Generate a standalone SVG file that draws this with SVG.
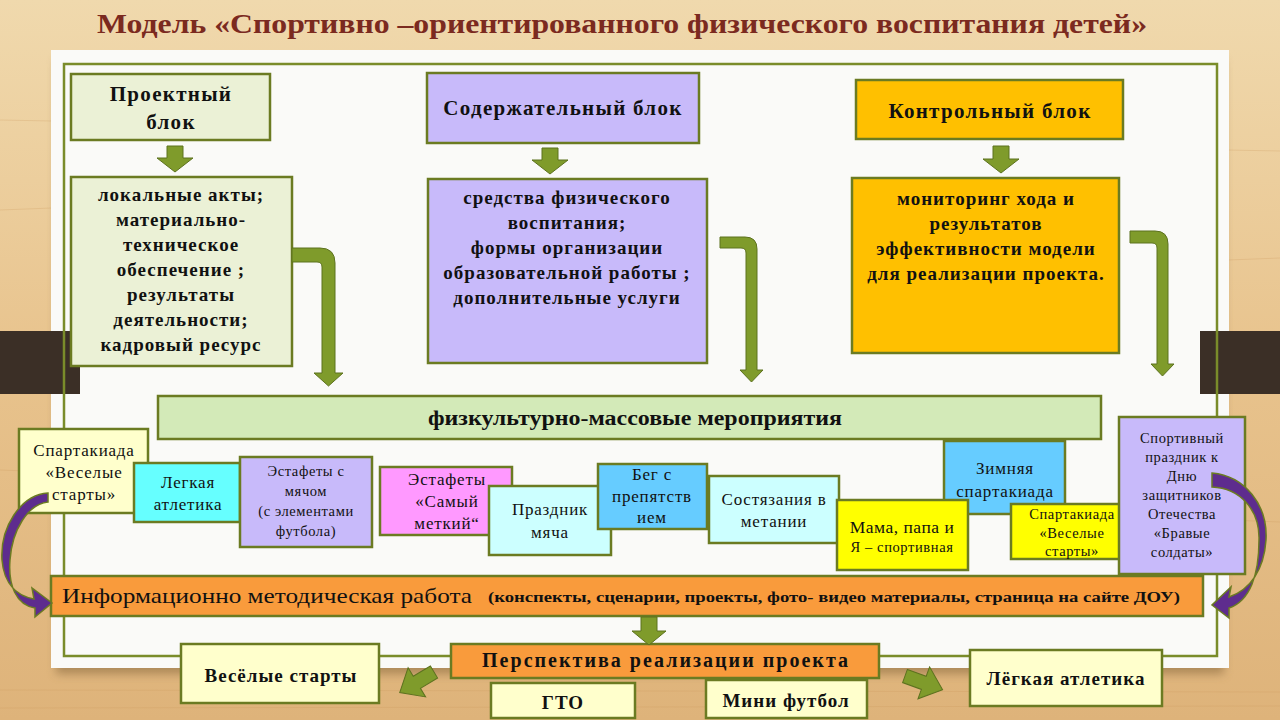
<svg xmlns="http://www.w3.org/2000/svg" width="1280" height="720" viewBox="0 0 1280 720">
<defs>
<linearGradient id="wood" x1="0" y1="0" x2="0" y2="1">
<stop offset="0" stop-color="#f0d9ad"/>
<stop offset="0.5" stop-color="#e8c38d"/>
<stop offset="1" stop-color="#deb37a"/>
</linearGradient>
<filter id="sh" x="-5%" y="-5%" width="110%" height="120%">
<feGaussianBlur stdDeviation="5"/>
</filter>
<style>
.bx{stroke:#6b7b22;stroke-width:2.5}
.ga{fill:#7f9b2b;stroke:#5d721f;stroke-width:1}
.pa{fill:#5e2c8e;stroke:#6b7b22;stroke-width:1.5}
.t{font-family:"Liberation Serif","Times New Roman",serif;fill:#111;text-anchor:middle}
.b{font-weight:bold}
.h{font-size:21px;font-weight:bold;letter-spacing:1.3px}
.m{font-size:19px;font-weight:bold;letter-spacing:1px}
.s{font-size:17px;letter-spacing:0.8px}
.xs{font-size:14.5px;letter-spacing:0.6px}
.p{font-size:19px;font-weight:bold;letter-spacing:1px}
</style>
</defs>
<rect x="0" y="0" width="1280" height="720" fill="url(#wood)"/>
<g opacity="0.25" stroke="#c9965a" stroke-width="1">
<line x1="0" y1="120" x2="52" y2="121"/><line x1="0" y1="210" x2="52" y2="208"/><line x1="0" y1="470" x2="52" y2="472"/>
<line x1="1228" y1="150" x2="1280" y2="151"/><line x1="1228" y1="260" x2="1280" y2="258"/><line x1="1228" y1="520" x2="1280" y2="522"/>
<line x1="0" y1="690" x2="1280" y2="692"/><line x1="0" y1="708" x2="1280" y2="706"/>
</g>
<rect x="56" y="60" width="1168" height="614" fill="#8a6a40" opacity="0.6" filter="url(#sh)"/>
<rect id="paper" x="51" y="50" width="1178" height="618" fill="#fafaf8"/>
<rect x="0" y="331" width="80" height="63" fill="#3b2f26"/>
<rect x="1200" y="331" width="80" height="63" fill="#3b2f26"/>
<rect id="frame" x="64" y="64" width="1153" height="592" fill="none" stroke="#7a8c2a" stroke-width="2.5"/>

<text class="t b" x="622" y="33" font-size="28" style="fill:#7b2a1f" textLength="1050" lengthAdjust="spacingAndGlyphs">Модель «Спортивно –ориентированного физического воспитания детей»</text>

<g id="proj-head">
<rect class="bx" x="71" y="74" width="199" height="66" fill="#ebf1d6"/>
<text class="t h" x="171" y="101">Проектный</text>
<text class="t h" x="171" y="129">блок</text>
</g>
<g id="proj-body">
<rect class="bx" x="71" y="177" width="221" height="189" fill="#ebf1d6"/>
<text class="t m" x="181" y="201">локальные акты;</text>
<text class="t m" x="181" y="226">материально-</text>
<text class="t m" x="181" y="251">техническое</text>
<text class="t m" x="181" y="276">обеспечение ;</text>
<text class="t m" x="181" y="301">результаты</text>
<text class="t m" x="181" y="326">деятельности;</text>
<text class="t m" x="181" y="351">кадровый ресурс</text>
</g>
<g id="cont-head">
<rect class="bx" x="427" y="73" width="272" height="70" fill="#c8bafa"/>
<text class="t h" x="563" y="115">Содержательный блок</text>
</g>
<g id="cont-body">
<rect class="bx" x="428" y="179" width="279" height="184" fill="#c8bafa"/>
<text class="t m" x="567" y="204">средства физического</text>
<text class="t m" x="567" y="229">воспитания;</text>
<text class="t m" x="567" y="254">формы организации</text>
<text class="t m" x="567" y="279">образовательной работы ;</text>
<text class="t m" x="567" y="304">дополнительные услуги</text>
</g>
<g id="ctrl-head">
<rect class="bx" x="856" y="80" width="267" height="59" fill="#ffc000"/>
<text class="t h" x="990" y="118">Контрольный блок</text>
</g>
<g id="ctrl-body">
<rect class="bx" x="852" y="178" width="267" height="175" fill="#ffc000"/>
<text class="t m" x="986" y="205">мониторинг хода и</text>
<text class="t m" x="986" y="230">результатов</text>
<text class="t m" x="986" y="255">эффективности модели</text>
<text class="t m" x="986" y="280">для реализации проекта.</text>
</g>
<g id="fizkult">
<rect class="bx" x="158" y="396" width="943" height="43" fill="#d3eab8"/>
<text class="t" x="635" y="425" font-size="20" font-weight="bold" textLength="414" lengthAdjust="spacingAndGlyphs">физкультурно-массовые мероприятия</text>
</g>

<g id="ev-spart1">
<rect class="bx" x="19" y="429" width="129" height="84" fill="#ffffcc"/>
<text class="t s" x="84" y="456">Спартакиада</text>
<text class="t s" x="84" y="478">«Веселые</text>
<text class="t s" x="84" y="500">старты»</text>
</g>
<g id="ev-legk">
<rect class="bx" x="134" y="463" width="106" height="59" fill="#66ffff"/>
<text class="t s" x="188" y="488">Легкая</text>
<text class="t s" x="188" y="510">атлетика</text>
</g>
<g id="ev-est1">
<rect class="bx" x="240" y="457" width="132" height="90" fill="#c8bafa"/>
<text class="t xs" x="306" y="476">Эстафеты с</text>
<text class="t xs" x="306" y="496">мячом</text>
<text class="t xs" x="306" y="516">(с элементами</text>
<text class="t xs" x="306" y="536">футбола)</text>
</g>
<g id="ev-est2">
<rect class="bx" x="380" y="467" width="132" height="68" fill="#ff99ff"/>
<text class="t s" x="447" y="485">Эстафеты</text>
<text class="t s" x="447" y="507">«Самый</text>
<text class="t s" x="447" y="529">меткий“</text>
</g>
<g id="ev-prazd">
<rect class="bx" x="489" y="486" width="122" height="69" fill="#ccffff"/>
<text class="t s" x="550" y="515">Праздник</text>
<text class="t s" x="550" y="538">мяча</text>
</g>
<g id="ev-beg">
<rect class="bx" x="598" y="464" width="109" height="65" fill="#66ccff"/>
<text class="t s" x="652" y="480">Бег с</text>
<text class="t s" x="652" y="502">препятств</text>
<text class="t s" x="652" y="523">ием</text>
</g>
<g id="ev-sost">
<rect class="bx" x="709" y="476" width="130" height="67" fill="#ccffff"/>
<text class="t s" x="774" y="505">Состязания в</text>
<text class="t s" x="774" y="527">метании</text>
</g>
<g id="ev-zim">
<rect class="bx" x="944" y="441" width="121" height="73" fill="#66ccff"/>
<text class="t s" x="1005" y="474">Зимняя</text>
<text class="t s" x="1005" y="497">спартакиада</text>
</g>
<g id="ev-mama">
<rect class="bx" x="837" y="500" width="131" height="70" fill="#ffff00"/>
<text class="t" x="902" y="533" font-size="17.5" letter-spacing="0.5">Мама, папа и</text>
<text class="t xs" x="902" y="552">Я – спортивная</text>
</g>
<g id="ev-spart2">
<rect class="bx" x="1011" y="504" width="123" height="55" fill="#ffff00"/>
<text class="t xs" x="1072" y="519">Спартакиада</text>
<text class="t xs" x="1072" y="538">«Веселые</text>
<text class="t xs" x="1072" y="556">старты»</text>
</g>
<g id="ev-brav">
<rect class="bx" x="1119" y="417" width="126" height="157" fill="#c8bafa"/>
<text class="t xs" x="1182" y="443">Спортивный</text>
<text class="t xs" x="1182" y="462">праздник к</text>
<text class="t xs" x="1182" y="481">Дню</text>
<text class="t xs" x="1182" y="500">защитников</text>
<text class="t xs" x="1182" y="519">Отечества</text>
<text class="t xs" x="1182" y="538">«Бравые</text>
<text class="t xs" x="1182" y="557">солдаты»</text>
</g>

<g id="info">
<rect class="bx" x="51" y="576" width="1152" height="40" fill="#f99b3c"/>
<text class="t" x="62" y="603" font-size="21" style="text-anchor:start" textLength="410" lengthAdjust="spacingAndGlyphs">Информационно методическая работа</text>
<text class="t b" x="488" y="602" font-size="15" style="text-anchor:start" textLength="692" lengthAdjust="spacingAndGlyphs">(конспекты, сценарии, проекты, фото- видео материалы, страница на сайте ДОУ)</text>
</g>
<g id="persp">
<rect class="bx" x="451" y="644" width="428" height="34" fill="#f99b3c"/>
<text class="t b" x="665" y="667" font-size="20" textLength="366" lengthAdjust="spacing">Перспектива реализации проекта</text>
</g>
<g id="p-vesel">
<rect class="bx" x="181" y="644" width="198" height="59" fill="#ffffcc"/>
<text class="t p" x="281" y="682">Весёлые старты</text>
</g>
<g id="p-gto">
<rect class="bx" x="491" y="683" width="144" height="35" fill="#ffffcc"/>
<text class="t p" x="563" y="709">ГТО</text>
</g>
<g id="p-mini">
<rect class="bx" x="706" y="680" width="161" height="38" fill="#ffffcc"/>
<text class="t p" x="786" y="707">Мини футбол</text>
</g>
<g id="p-legk">
<rect class="bx" x="970" y="650" width="192" height="56" fill="#ffffcc"/>
<text class="t p" x="1066" y="685">Лёгкая атлетика</text>
</g>

<g id="connectors">
<path class="ga" d="M167,146 H183 V158 H193 L175,172 L157,158 H167 Z"/>
<path class="ga" d="M542,148 H558 V160 H568 L550,174 L532,160 H542 Z"/>
<path class="ga" d="M993,146 H1009 V159 H1019 L1001,173 L983,159 H993 Z"/>
<path class="ga" d="M641,617 H657 V631 H666 L649,645 L632,631 H641 Z"/>
<path class="ga" d="M292,248 H320 Q335,248 335,263 V373 H343 L328.5,386 L314,373 H322 V267 Q322,262 317,262 H292 Z"/>
<path class="ga" d="M720,237 H745 Q757,237 757,249 V370 H763 L751.5,382 L740,370 H746 V253 Q746,248 741,248 H720 Z"/>
<path class="ga" d="M1130,231 H1155 Q1168,231 1168,244 V364 H1174 L1162.5,376 L1151,364 H1157 V248 Q1157,243 1152,243 H1130 Z"/>
<path class="ga" transform="translate(434,672) rotate(149)" d="M0,-7 H20 V-17 L40,0 L20,17 V7 H0 Z"/>
<path class="ga" transform="translate(905,676) rotate(20)" d="M0,-7 H20 V-17 L40,0 L20,17 V7 H0 Z"/>
<path class="pa" d="M48,493 C20,495 0,528 2,560 C4,585 18,596 34,599 L32,588 L52,603 L35,617 L35,608 C16,605 8,585 10,560 C12,530 28,504 48,502 Z"/>
<path class="pa" d="M1212,473 C1245,476 1268,505 1266,540 C1264,570 1250,590 1229,597 L1231,587 L1212,605 L1229,618 L1229,608 C1250,601 1259,575 1259,540 C1260,510 1240,488 1212,487 Z"/>
</g>
</svg>
